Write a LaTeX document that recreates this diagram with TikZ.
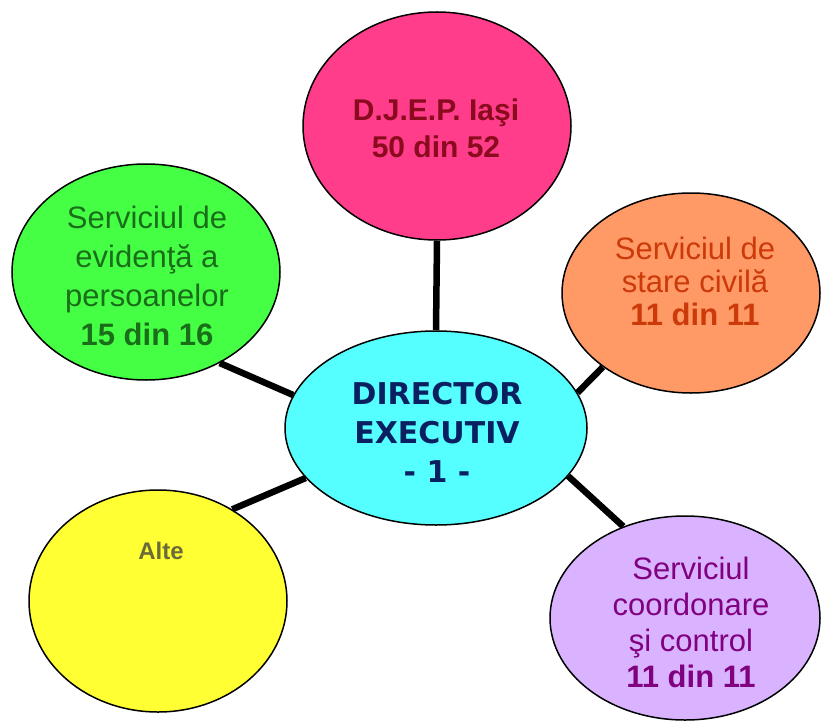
\documentclass[tikz,border=0pt]{standalone}
\usepackage{fontspec}
\setmainfont{Liberation Sans}
\newfontfamily\dejavu{DejaVu Sans}
\usetikzlibrary{shapes.geometric}

\definecolor{pinkfill}{HTML}{FF3D8A}
\definecolor{pinktext}{HTML}{8A0A1E}
\definecolor{greenfill}{HTML}{44FF44}
\definecolor{greentext}{HTML}{1A6E1A}
\definecolor{orangefill}{HTML}{FF9966}
\definecolor{orangetext}{HTML}{CC3A0A}
\definecolor{cyanfill}{HTML}{55FFFF}
\definecolor{cyantext}{HTML}{0A2060}
\definecolor{yellowfill}{HTML}{FFFF33}
\definecolor{yellowtext}{HTML}{6B6B3A}
\definecolor{purplefill}{HTML}{D9B3FF}
\definecolor{purpletext}{HTML}{800080}

\tikzset{
  bubble/.style={ellipse, draw=black, line width=1.5pt, inner sep=0pt},
  label text/.style={align=center, inner sep=0pt},
  link/.style={line width=6.5pt, black}
}

\begin{document}
\begin{tikzpicture}[x=1pt,y=-1pt]
\useasboundingbox (0,0) rectangle (821,722);
\fill[white] (0,0) rectangle (821,722);

% ellipses
\node[bubble, fill=pinkfill, minimum width=268pt, minimum height=228pt] (djep) at (437,126) {};
\node[bubble, fill=greenfill, minimum width=268pt, minimum height=216pt] (evid) at (146,272) {};
\node[bubble, fill=orangefill, minimum width=258pt, minimum height=200pt] (stare) at (691,293) {};
\node[bubble, fill=cyanfill, minimum width=302pt, minimum height=194pt] (dir) at (436,428) {};
\node[bubble, fill=yellowfill, minimum width=258pt, minimum height=222pt] (alte) at (158,601) {};
\node[bubble, fill=purplefill, minimum width=270pt, minimum height=204pt] (coord) at (685,618) {};

% connectors
\draw[link] (dir.90) -- (djep.270);
\draw[link] (dir.167) -- (evid.309);
\draw[link] (dir.14) -- (stare.220);
\draw[link] (dir.340) -- (coord.124);
\draw[link] (dir.201) -- (alte.51);

% texts
\node[label text, text=pinktext, font=\fontsize{30}{37}\selectfont\bfseries] (tdjep) at (436,128)
  {D.J.E.P. Iaşi\\50 din 52};
\node[label text, text=greentext, font=\fontsize{31}{39}\selectfont] (tevid) at (147,276)
  {Serviciul de\\evidenţă a\\persoanelor\\\textbf{15 din 16}};
\node[label text, text=orangetext, font=\fontsize{31}{33}\selectfont] (tstare) at (695,281)
  {Serviciul de\\stare civilă\\\textbf{11 din 11}};
\node[label text, text=cyantext, font=\fontsize{30}{39}\selectfont\dejavu\bfseries] (tdir) at (437,432)
  {DIRECTOR\\EXECUTIV\\- 1 -};
\node[label text, text=purpletext, font=\fontsize{31}{36}\selectfont] (tcoord) at (691,622)
  {Serviciul\\coordonare\\şi control\\\textbf{11 din 11}};
\node[label text, text=yellowtext, font=\fontsize{24}{28}\selectfont\bfseries] (talte) at (161,551)
  {Alte};
\end{tikzpicture}
\end{document}
